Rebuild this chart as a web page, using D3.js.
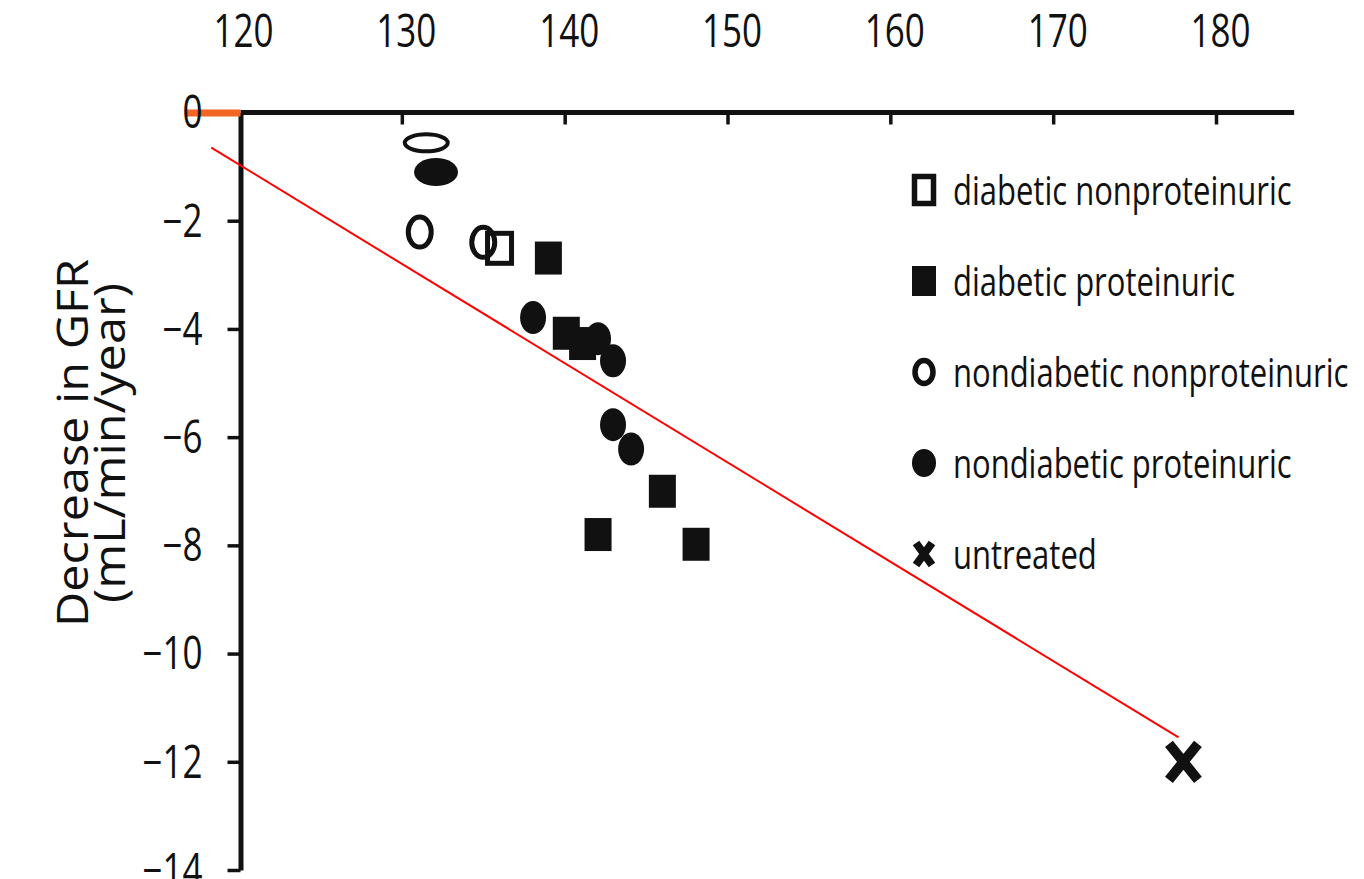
<!DOCTYPE html>
<html>
<head>
<meta charset="utf-8">
<script src="https://cdn.jsdelivr.net/npm/d3@7"></script>
<style>
  body { margin: 0; background: #fff; }
  text { font-family: "Open Sans", sans-serif; fill: #111; }
</style>
</head>
<body>
<div id="chart"></div>
<script>
// values (systolic BP vs GFR decline)
const dnpX = [136.0], dnpY = [-2.51]
const dpX = [139.0, 140.1, 141.1, 142.05, 146.0, 148.07]
const dpY = [-2.69, -4.08, -4.27, -7.80, -7.0, -7.98]
const ndnpX = [131.5, 131.1, 135.0]
const ndnpY = [-0.56, -2.21, -2.40]
const ndpX = [132.1, 138.06, 142.05, 142.97, 142.97, 144.08]
const ndpY = [-1.10, -3.79, -4.18, -4.59, -5.77, -6.22]
const untreatedX = [178.0], untreatedY = [-12.0]
const trendX = [118.3, 177.7], trendY = [-0.65, -11.55]
const xTicks = [120, 130, 140, 150, 160, 170, 180]
const yTicks = [0, -2, -4, -6, -8, -10, -12, -14]
const legendLabels = ["diabetic nonproteinuric", "diabetic proteinuric", "nondiabetic nonproteinuric", "nondiabetic proteinuric", "untreated"]
const yLabel = ["Decrease in GFR", "(mL/min/year)"]

const W = 1364, H = 879
const ink = "#111"
const stretch = 1.28   // the original picture is stretched vertically

const svg = d3.select("#chart").append("svg")
  .attr("width", W).attr("height", H)
  .attr("viewBox", [0, 0, W, H])
svg.append("rect").attr("width", W).attr("height", H).attr("fill", "#fff")

const x = d3.scaleLinear().domain([120, 180]).range([239, 1216])
const y = d3.scaleLinear().domain([0, -14]).range([112.5, 870])
const x0 = 240.5, xEnd = 184.8

// top axis
const topAxis = svg.append("g").attr("transform", `translate(0,${y(0)})`)
  .call(d3.axisTop(x).tickValues(xTicks).tickSize(-12).tickSizeOuter(0))
topAxis.select(".domain").remove()
topAxis.selectAll(".tick line").attr("stroke", ink).attr("stroke-width", 3.5)
  .attr("display", d => d === 120 ? "none" : null)
topAxis.selectAll(".tick text")
  .attr("y", null).attr("dy", null)
  .attr("transform", `translate(4,-66) scale(1,${stretch})`)
  .attr("font-size", 35).attr("font-family", "Open Sans").attr("fill", ink)
topAxis.append("line").attr("x1", x0).attr("x2", x(xEnd))
  .attr("stroke", ink).attr("stroke-width", 5)

// left axis
const leftAxis = svg.append("g").attr("transform", `translate(${x0},0)`)
  .call(d3.axisLeft(y).tickValues(yTicks).tickSize(13).tickSizeOuter(0))
leftAxis.select(".domain").attr("stroke", ink).attr("stroke-width", 5)
leftAxis.selectAll(".tick line").attr("stroke", ink).attr("stroke-width", 3.5)
leftAxis.selectAll(".tick text")
  .attr("x", null).attr("dy", null)
  .attr("transform", `translate(-38,0) scale(1,${stretch}) translate(0,12)`)
  .attr("font-size", 35).attr("font-family", "Open Sans").attr("fill", ink)
// orange mark at zero
leftAxis.selectAll(".tick").filter(d => d === 0).select("line")
  .attr("x2", -54).attr("stroke", "#f26522").attr("stroke-width", 7)

// y axis title
yLabel.forEach((t, i) => {
  svg.append("text")
    .attr("transform", `translate(${88 + i * 37},443) rotate(-90) scale(1.13,1)`)
    .attr("text-anchor", "middle")
    .attr("font-size", 43)
    .text(t)
})

// trend line
svg.append("line")
  .attr("x1", x(trendX[0])).attr("y1", y(trendY[0]))
  .attr("x2", x(trendX[1])).attr("y2", y(trendY[1]))
  .attr("stroke", "#ff0000").attr("stroke-width", 2)

const pts = (xs, ys) => xs.map((v, i) => ({x: v, y: ys[i]}))
const squashed = d => d.y > -1.5   // the two top points are drawn flattened

// diabetic proteinuric
svg.append("g").selectAll("rect").data(pts(dpX, dpY)).join("rect")
  .attr("x", d => x(d.x) - 13.5).attr("y", d => y(d.y) - 16.5)
  .attr("width", 27).attr("height", 33).attr("fill", ink)

// diabetic nonproteinuric
svg.append("g").selectAll("rect").data(pts(dnpX, dnpY)).join("rect")
  .attr("x", d => x(d.x) - 12).attr("y", d => y(d.y) - 15)
  .attr("width", 24).attr("height", 30)
  .attr("fill", "#fff").attr("stroke", ink).attr("stroke-width", 5)

// nondiabetic proteinuric
svg.append("g").selectAll("ellipse").data(pts(ndpX, ndpY)).join("ellipse")
  .attr("cx", d => x(d.x)).attr("cy", d => y(d.y))
  .attr("rx", d => squashed(d) ? 22 : 13).attr("ry", d => squashed(d) ? 14 : 16.5)
  .attr("fill", ink)

// nondiabetic nonproteinuric
svg.append("g").selectAll("ellipse").data(pts(ndnpX, ndnpY)).join("ellipse")
  .attr("cx", d => x(d.x)).attr("cy", d => y(d.y))
  .attr("rx", d => squashed(d) ? 21.5 : 11.5).attr("ry", d => squashed(d) ? 8.5 : 15)
  .attr("fill", "none").attr("stroke", ink).attr("stroke-width", d => squashed(d) ? 4 : 5)

// untreated
const cross = (cx, cy, w, h, sw) => {
  const g = svg.append("g").attr("transform", `translate(${cx},${cy})`)
  g.append("path").attr("d", `M${-w / 2},${-h / 2}L${w / 2},${h / 2}M${w / 2},${-h / 2}L${-w / 2},${h / 2}`)
    .attr("stroke", ink).attr("stroke-width", sw).attr("fill", "none")
}
pts(untreatedX, untreatedY).forEach(d => cross(x(d.x), y(d.y), 29, 36, 10))

// legend
const lg = svg.append("g").attr("transform", "translate(924,0)")
const rowY = i => 190 + i * 91
legendLabels.forEach((t, i) => {
  const cy = rowY(i)
  if (i === 0) lg.append("rect").attr("x", -9.5).attr("y", cy - 13.5).attr("width", 19).attr("height", 27)
    .attr("fill", "#fff").attr("stroke", ink).attr("stroke-width", 5.5)
  if (i === 1) lg.append("rect").attr("x", -12).attr("y", cy - 15).attr("width", 24).attr("height", 30).attr("fill", ink)
  if (i === 2) lg.append("ellipse").attr("cx", 0).attr("cy", cy).attr("rx", 9).attr("ry", 11.5)
    .attr("fill", "none").attr("stroke", ink).attr("stroke-width", 5.5)
  if (i === 3) lg.append("ellipse").attr("cx", 0).attr("cy", cy).attr("rx", 12).attr("ry", 14).attr("fill", ink)
  if (i === 4) {
    const g = lg.append("g").attr("transform", `translate(0,${cy})`)
    g.append("path").attr("d", "M-8,-11L8,11M8,-11L-8,11").attr("stroke", ink).attr("stroke-width", 8)
  }
  lg.append("text")
    .attr("transform", `translate(29,${cy + 15}) scale(1,${stretch})`)
    .attr("font-size", 31)
    .text(t)
})
</script>
</body>
</html>
